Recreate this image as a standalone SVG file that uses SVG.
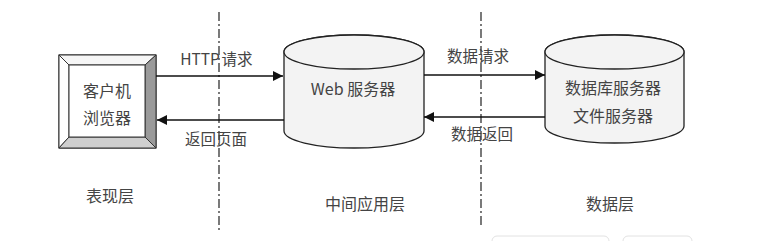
<svg xmlns="http://www.w3.org/2000/svg" width="758" height="241" viewBox="0 0 758 241">
<defs>
<style>
text{font-family:"Noto Sans CJK SC","Noto Sans",sans-serif;fill:#444;text-anchor:middle;dominant-baseline:central}
.t16{font-size:16px}
.t15{font-size:15.5px}
.ln{stroke:#111;stroke-width:1.3;fill:none}
.cyl{fill:#f3f3f3;stroke:#222;stroke-width:1.3}
.dd{stroke:#222;stroke-width:1.2;stroke-dasharray:9 3 2 3;fill:none}
</style>
<marker id="ah" viewBox="0 0 10 10" refX="10" refY="5" markerWidth="10" markerHeight="10" markerUnits="userSpaceOnUse" orient="auto">
<path d="M0,0 L10,5 L0,10 Z" fill="#111"/>
</marker>
</defs>
<rect width="758" height="241" fill="#fff"/>
<g id="dividers">
<line class="dd" x1="219" y1="12" x2="219" y2="232"/>
<line class="dd" x1="481" y1="12" x2="481" y2="225"/>
</g>
<g id="client">
<rect x="59" y="55" width="97" height="93" fill="#fff" stroke="#333" stroke-width="1.2"/>
<polygon points="59,55 156,55 145,65 69,65" fill="#f6f6f6" stroke="#333" stroke-width="1"/>
<polygon points="59,55 69,65 69,137 59,148" fill="#ffffff" stroke="#333" stroke-width="1"/>
<polygon points="156,55 156,148 145,137 145,65" fill="#9a9a9a" stroke="#333" stroke-width="1"/>
<polygon points="59,148 156,148 145,137 69,137" fill="#cfcfcf" stroke="#333" stroke-width="1"/>
<rect x="69" y="65" width="76" height="72" fill="#fff" stroke="#333" stroke-width="1"/>
<text class="t16" x="107" y="90">客户机</text>
<text class="t16" x="107" y="117">浏览器</text>
</g>
<g id="web">
<path class="cyl" d="M284,52 L284,131 A70,17 0 0 0 424,131 L424,52 A70,17 0 0 0 284,52 Z"/>
<ellipse cx="354" cy="52" rx="70" ry="17" fill="#f3f3f3" stroke="#222" stroke-width="1.3"/>
<text class="t16" x="353" y="88">Web 服务器</text>
</g>
<g id="data">
<path class="cyl" d="M545,52 L545,126 A69.5,17 0 0 0 684,126 L684,52 A69.5,17 0 0 0 545,52 Z"/>
<ellipse cx="614.5" cy="52" rx="69.5" ry="17" fill="#f3f3f3" stroke="#222" stroke-width="1.3"/>
<text class="t16" x="613" y="87">数据库服务器</text>
<text class="t16" x="613" y="115">文件服务器</text>
</g>
<g id="connectors">
<line class="ln" x1="156" y1="76" x2="283" y2="76" marker-end="url(#ah)"/>
<line class="ln" x1="284" y1="120" x2="157" y2="120" marker-end="url(#ah)"/>
<line class="ln" x1="424" y1="75" x2="545" y2="75" marker-end="url(#ah)"/>
<line class="ln" x1="545" y1="117" x2="424" y2="117" marker-end="url(#ah)"/>
</g>
<g id="labels">
<text class="t15" x="200" y="58">HTTP</text>
<text class="t15" x="237" y="58">请求</text>
<text class="t15" x="216" y="138">返回页面</text>
<text class="t15" x="478" y="55">数据请求</text>
<text class="t15" x="482" y="133">数据返回</text>
<text class="t16" x="110" y="195">表现层</text>
<text class="t16" x="365" y="203">中间应用层</text>
<text class="t16" x="610" y="203">数据层</text>
</g>
<g id="ui-fragments">
<rect x="492" y="236" width="117" height="12" rx="5" fill="none" stroke="#e2e2e2" stroke-width="1"/>
<rect x="623" y="236" width="69" height="12" rx="5" fill="none" stroke="#e2e2e2" stroke-width="1"/>
</g>
</svg>
